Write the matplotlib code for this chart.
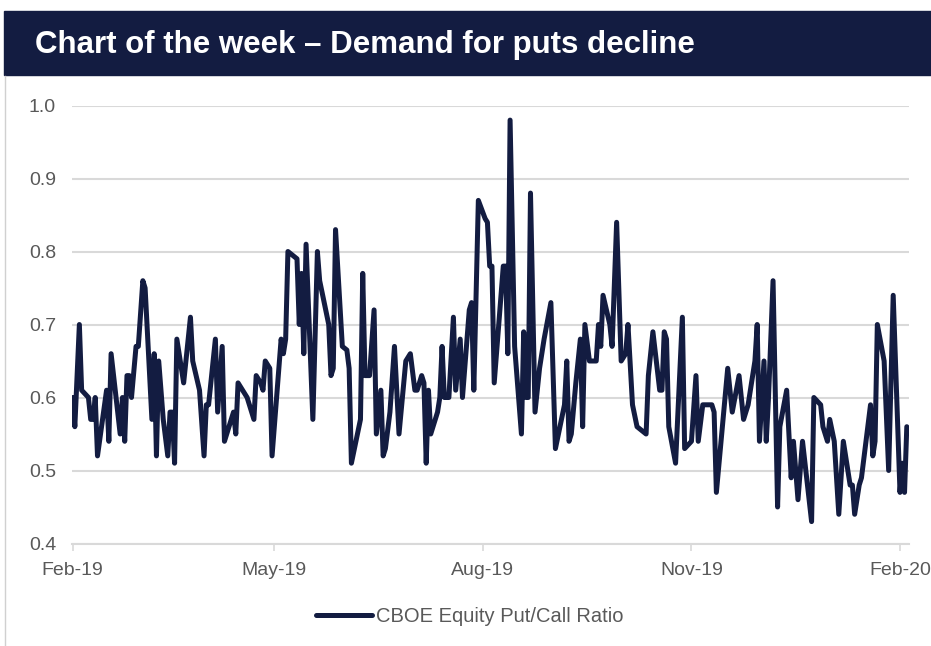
import matplotlib
matplotlib.use("Agg")
import matplotlib.pyplot as plt
import matplotlib.dates as mdates
from matplotlib.patches import Rectangle
import pandas as pd

plt.rcParams['font.family'] = ['Liberation Sans', 'DejaVu Sans']

# CBOE equity put/call ratio (turning points)
dates = [
    '2019-02-01', '2019-02-02', '2019-02-04', '2019-02-05', '2019-02-08', '2019-02-09', '2019-02-10', '2019-02-11',
    '2019-02-12', '2019-02-16', '2019-02-17', '2019-02-18', '2019-02-22', '2019-02-23', '2019-02-24', '2019-02-25',
    '2019-02-26', '2019-02-27', '2019-03-01', '2019-03-02', '2019-03-04', '2019-03-05', '2019-03-08', '2019-03-09',
    '2019-03-10', '2019-03-11', '2019-03-13', '2019-03-15', '2019-03-16', '2019-03-17', '2019-03-18', '2019-03-19',
    '2019-03-22', '2019-03-25', '2019-03-26', '2019-03-29', '2019-03-31', '2019-04-01', '2019-04-02', '2019-04-05',
    '2019-04-06', '2019-04-08', '2019-04-09', '2019-04-11', '2019-04-13', '2019-04-14', '2019-04-15', '2019-04-19',
    '2019-04-20', '2019-04-22', '2019-04-23', '2019-04-25', '2019-04-26', '2019-04-27', '2019-04-29', '2019-04-30',
    '2019-05-04', '2019-05-05', '2019-05-06', '2019-05-07', '2019-05-09', '2019-05-11', '2019-05-12', '2019-05-13',
    '2019-05-14', '2019-05-15', '2019-05-18', '2019-05-20', '2019-05-21', '2019-05-25', '2019-05-26', '2019-05-27',
    '2019-05-28', '2019-05-31', '2019-06-02', '2019-06-03', '2019-06-04', '2019-06-08', '2019-06-09', '2019-06-10',
    '2019-06-12', '2019-06-14', '2019-06-15', '2019-06-17', '2019-06-18', '2019-06-19', '2019-06-21', '2019-06-23',
    '2019-06-25', '2019-06-28', '2019-06-30', '2019-07-02', '2019-07-03', '2019-07-05', '2019-07-06', '2019-07-07',
    '2019-07-08', '2019-07-09', '2019-07-12', '2019-07-13', '2019-07-14', '2019-07-15', '2019-07-17', '2019-07-19',
    '2019-07-20', '2019-07-22', '2019-07-23', '2019-07-26', '2019-07-27', '2019-07-28', '2019-07-30', '2019-08-02',
    '2019-08-03', '2019-08-04', '2019-08-05', '2019-08-06', '2019-08-08', '2019-08-10', '2019-08-11', '2019-08-12',
    '2019-08-13', '2019-08-15', '2019-08-18', '2019-08-19', '2019-08-20', '2019-08-21', '2019-08-22', '2019-08-24',
    '2019-08-26', '2019-08-28', '2019-08-31', '2019-09-02', '2019-09-04', '2019-09-06', '2019-09-07', '2019-09-08',
    '2019-09-09', '2019-09-11', '2019-09-13', '2019-09-14', '2019-09-15', '2019-09-17', '2019-09-20', '2019-09-21',
    '2019-09-22', '2019-09-23', '2019-09-26', '2019-09-27', '2019-09-29', '2019-10-01', '2019-10-03', '2019-10-04',
    '2019-10-06', '2019-10-08', '2019-10-12', '2019-10-13', '2019-10-15', '2019-10-18', '2019-10-19', '2019-10-20',
    '2019-10-21', '2019-10-22', '2019-10-25', '2019-10-28', '2019-10-29', '2019-11-01', '2019-11-03', '2019-11-04',
    '2019-11-06', '2019-11-10', '2019-11-11', '2019-11-12', '2019-11-17', '2019-11-19', '2019-11-22', '2019-11-24',
    '2019-11-26', '2019-11-29', '2019-11-30', '2019-12-01', '2019-12-03', '2019-12-04', '2019-12-05', '2019-12-07',
    '2019-12-09', '2019-12-10', '2019-12-13', '2019-12-15', '2019-12-16', '2019-12-18', '2019-12-20', '2019-12-24',
    '2019-12-25', '2019-12-28', '2019-12-29', '2019-12-31', '2020-01-01', '2020-01-03', '2020-01-05', '2020-01-07',
    '2020-01-10', '2020-01-11', '2020-01-12', '2020-01-14', '2020-01-15', '2020-01-19', '2020-01-20', '2020-01-21',
    '2020-01-22', '2020-01-25', '2020-01-27', '2020-01-29', '2020-02-01', '2020-02-02', '2020-02-03', '2020-02-04',
]
ratio = [
    0.60, 0.56, 0.70, 0.61, 0.60, 0.57, 0.57, 0.60, 0.52, 0.61,
    0.54, 0.66, 0.55, 0.60, 0.54, 0.63, 0.63, 0.60, 0.67, 0.67,
    0.76, 0.75, 0.57, 0.66, 0.52, 0.65, 0.57, 0.52, 0.58, 0.58,
    0.51, 0.68, 0.62, 0.71, 0.65, 0.61, 0.52, 0.59, 0.59, 0.68,
    0.58, 0.67, 0.54, 0.56, 0.58, 0.55, 0.62, 0.60, 0.59, 0.57,
    0.63, 0.62, 0.61, 0.65, 0.64, 0.52, 0.68, 0.66, 0.68, 0.80,
    0.795, 0.79, 0.70, 0.77, 0.66, 0.81, 0.57, 0.80, 0.76, 0.70,
    0.63, 0.64, 0.83, 0.67, 0.665, 0.64, 0.51, 0.57, 0.77, 0.63,
    0.63, 0.72, 0.55, 0.61, 0.52, 0.53, 0.58, 0.67, 0.55, 0.65,
    0.66, 0.61, 0.61, 0.63, 0.62, 0.51, 0.61, 0.55, 0.58, 0.60,
    0.67, 0.60, 0.60, 0.71, 0.61, 0.68, 0.60, 0.72, 0.73, 0.61,
    0.87, 0.845, 0.84, 0.78, 0.78, 0.62, 0.70, 0.78, 0.78, 0.66,
    0.98, 0.67, 0.55, 0.69, 0.60, 0.60, 0.88, 0.58, 0.64, 0.68,
    0.73, 0.53, 0.56, 0.59, 0.65, 0.54, 0.55, 0.62, 0.68, 0.56,
    0.70, 0.65, 0.65, 0.70, 0.67, 0.74, 0.70, 0.67, 0.84, 0.65,
    0.66, 0.70, 0.59, 0.56, 0.55, 0.63, 0.69, 0.61, 0.61, 0.69,
    0.68, 0.56, 0.51, 0.71, 0.53, 0.54, 0.63, 0.54, 0.59, 0.59,
    0.58, 0.47, 0.64, 0.58, 0.63, 0.57, 0.59, 0.65, 0.70, 0.54,
    0.65, 0.54, 0.60, 0.76, 0.45, 0.56, 0.61, 0.49, 0.54, 0.46,
    0.54, 0.43, 0.60, 0.59, 0.56, 0.54, 0.57, 0.54, 0.44, 0.54,
    0.48, 0.48, 0.44, 0.48, 0.49, 0.59, 0.52, 0.54, 0.70, 0.65,
    0.50, 0.74, 0.47, 0.51, 0.47, 0.56,
]
tick_dates = ['2019-02-01', '2019-05-01', '2019-08-01', '2019-11-01', '2020-02-01']
title = 'Chart of the week \u2013 Demand for puts decline'
series_name = 'CBOE Equity Put/Call Ratio'

navy = '#131c41'
grey_txt = '#595959'
grid_col = '#d9d9d9'

W, H = 931, 646
fig = plt.figure(figsize=(W / 100, H / 100), dpi=100)

# title banner
fig.patches.append(Rectangle((4 / W, 1 - 75 / H), 1 - 4 / W, 64 / H,
                             transform=fig.transFigure, color=navy, zorder=0))
fig.text(35 / W, 1 - 45 / H, title, color='white', fontsize=22.5,
         fontweight='bold', va='center', ha='left')
# thin frame line on the left of the chart body
fig.add_artist(plt.Line2D([4.5 / W, 4.5 / W], [0, 1 - 76 / H], transform=fig.transFigure,
                          color='#d0d0d0', lw=1))

ax = fig.add_axes([72 / W, 1 - 543.5 / H, (908.5 - 72) / W, (543.5 - 105.5) / H])

x = pd.to_datetime(dates)
ax.plot(x, ratio, color=navy, lw=3.6, solid_joinstyle='round', solid_capstyle='round',
        label=series_name, zorder=3)

ax.set_ylim(0.4, 1.0)
ax.set_yticks([0.4, 0.5, 0.6, 0.7, 0.8, 0.9, 1.0])
ax.yaxis.set_major_formatter(plt.FormatStrFormatter('%.1f'))
ax.set_xlim(pd.Timestamp('2019-01-31 18:00'), pd.Timestamp('2020-02-04 18:00'))
ax.set_xticks(pd.to_datetime(tick_dates))
ax.xaxis.set_major_formatter(mdates.DateFormatter('%b-%y'))

ax.grid(axis='y', color=grid_col, lw=1.5, zorder=1)
for s in ['top', 'right', 'left']:
    ax.spines[s].set_visible(False)
ax.spines['bottom'].set_color(grid_col)
ax.spines['bottom'].set_linewidth(1.5)
ax.tick_params(axis='y', length=0, pad=11.5, labelsize=14, labelcolor=grey_txt)
ax.tick_params(axis='x', length=5, width=1.2, color=grid_col, pad=8,
               labelsize=14, labelcolor=grey_txt)

fig.legend(loc='center', bbox_to_anchor=(470 / W, 1 - 617 / H), frameon=False,
           fontsize=14.5, labelcolor=grey_txt, handlelength=2.8, handletextpad=0.2)

fig.savefig('out.png', dpi=100)
